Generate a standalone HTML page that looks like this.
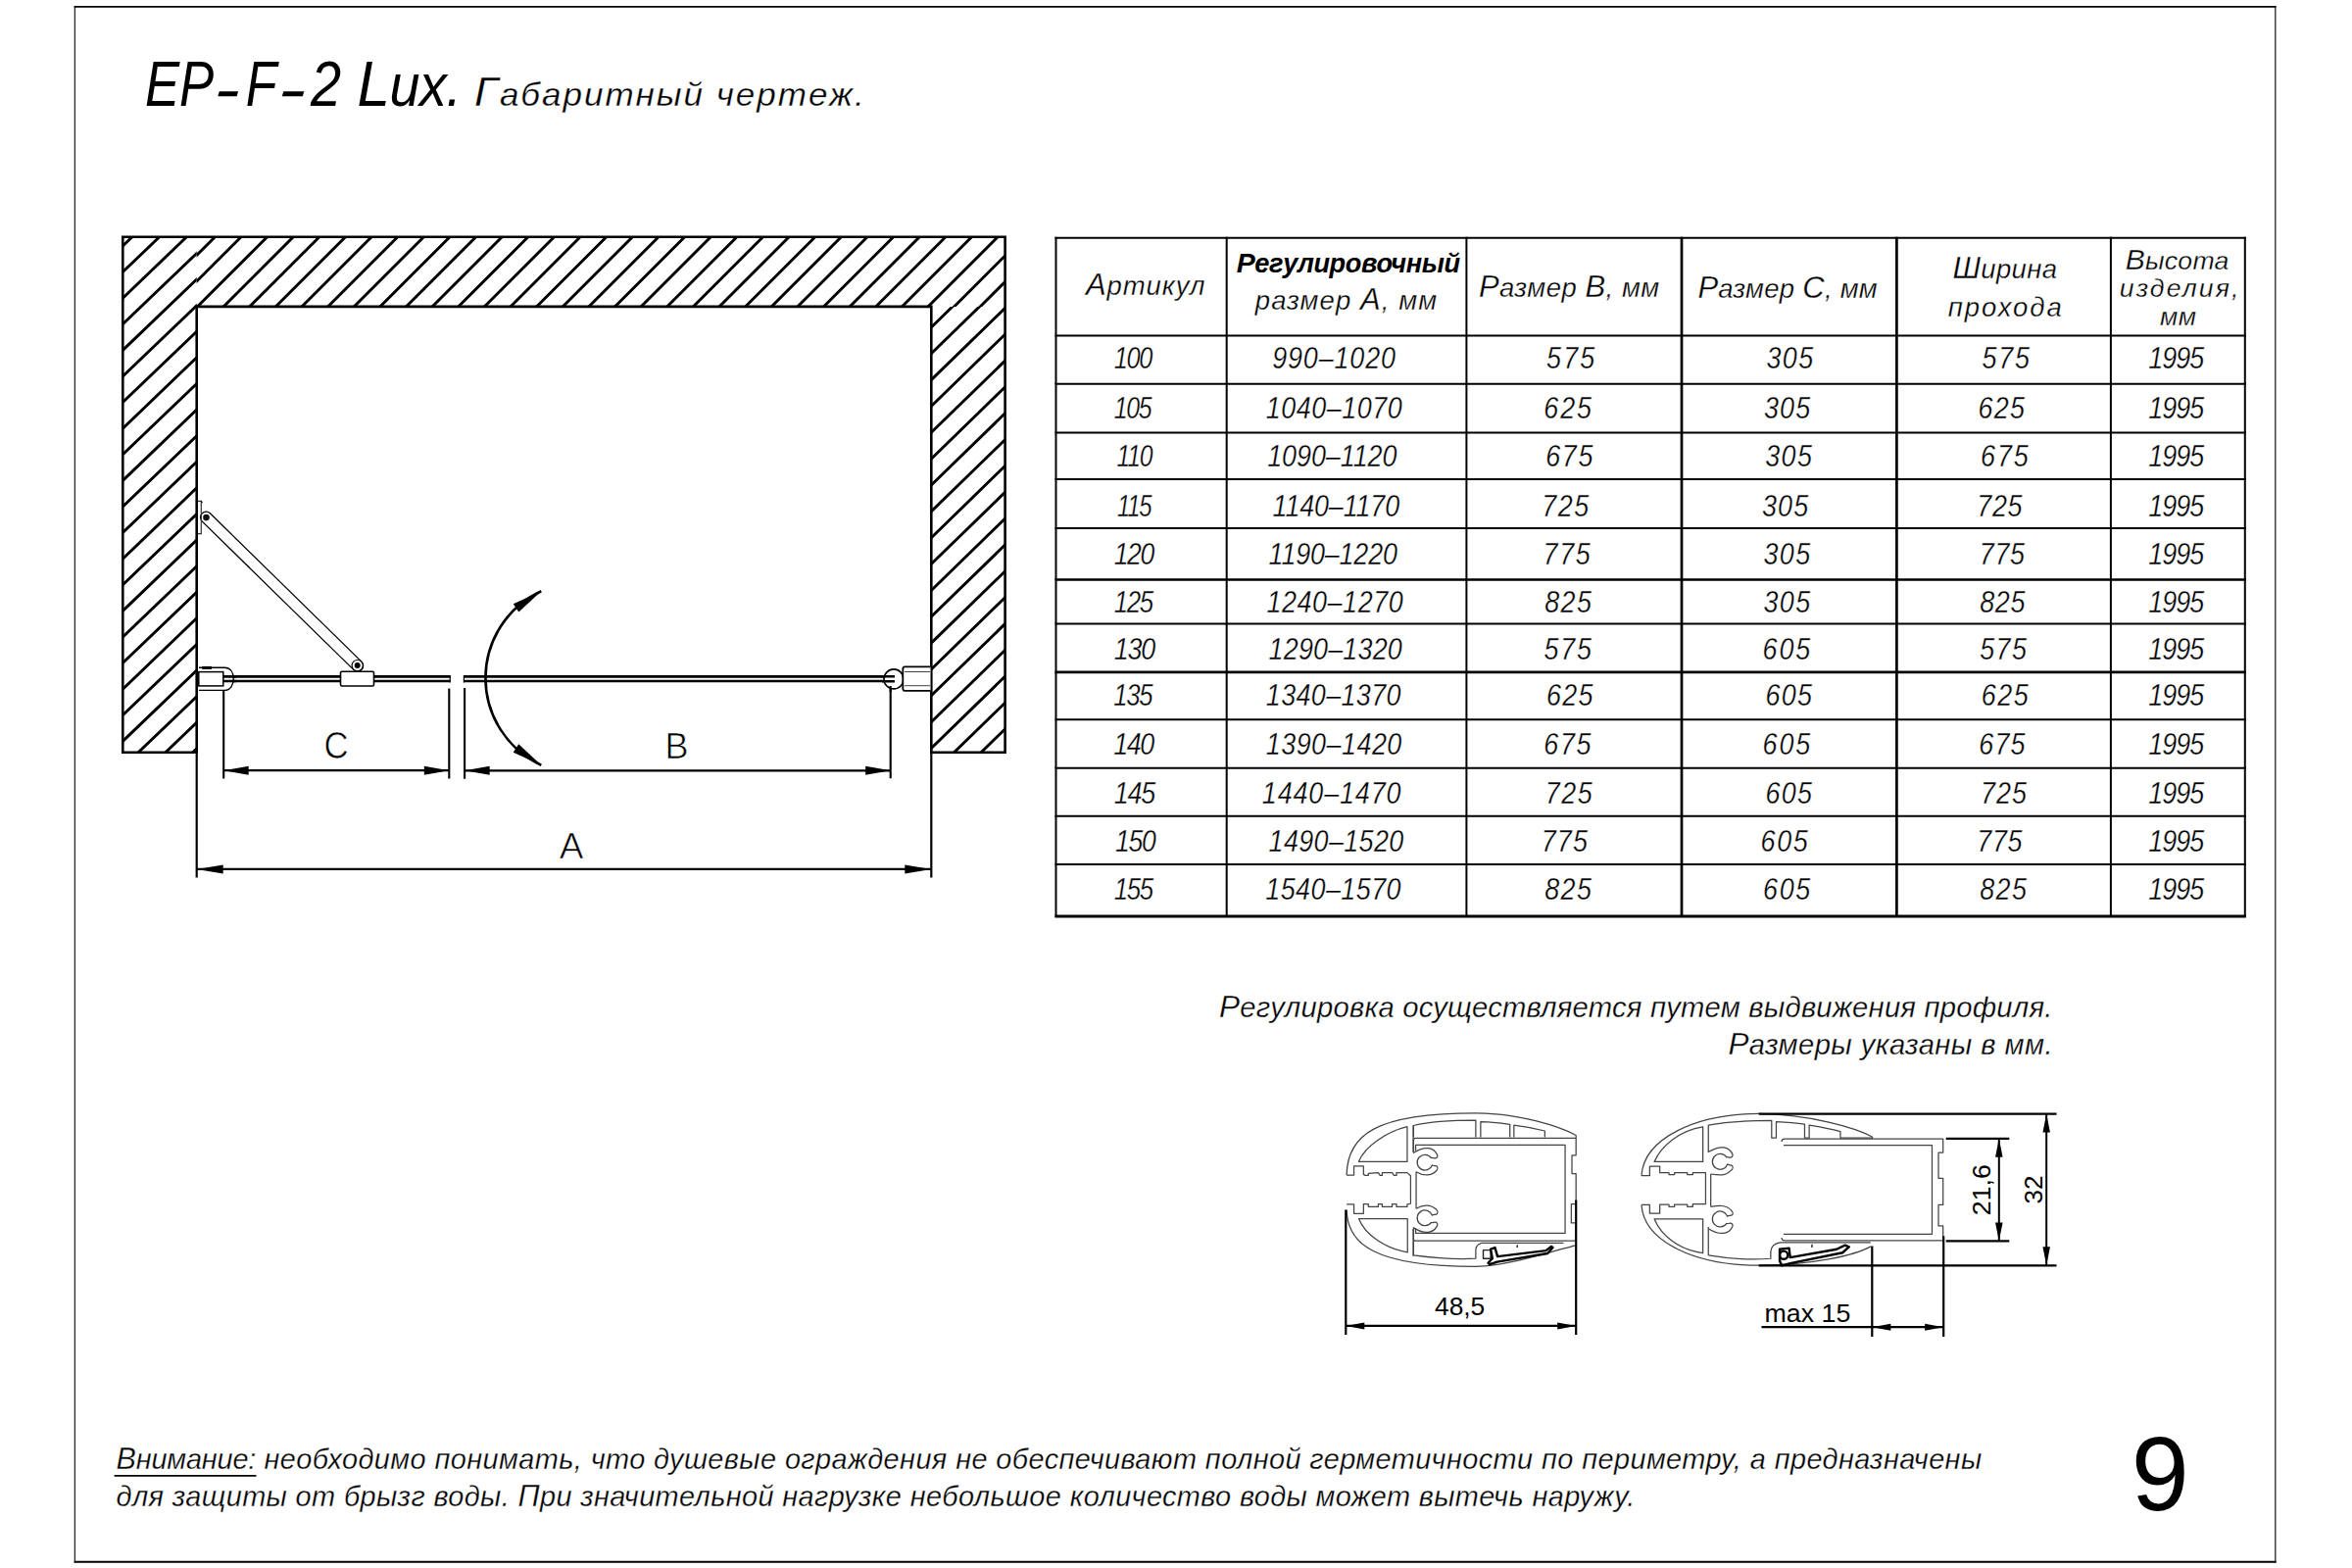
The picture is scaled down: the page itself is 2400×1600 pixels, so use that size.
<!DOCTYPE html>
<html><head><meta charset="utf-8"><style>
html,body{margin:0;padding:0;background:#fff;}
svg{display:block;}
text{font-family:"Liberation Sans",sans-serif;fill:#000;}
</style></head><body>
<svg width="2400" height="1600" viewBox="0 0 2400 1600">
<rect width="2400" height="1600" fill="#fff"/>
<path d="M76.4 6V1594.8M2321.8 6V1594.8" stroke="#333" stroke-width="1.4"/>
<path d="M75.7 6.9H2322.5M75.7 1593.8H2322.5" stroke="#000" stroke-width="1.9"/>
<clipPath id="ct"><path d="M200.7 241.8H1025.6V312.9H200.7Z"/></clipPath><clipPath id="cl"><path d="M125.3 241.8H200.7V767.7H125.3Z"/></clipPath><clipPath id="cr"><path d="M950.3 312.9H1025.6V767.7H950.3Z"/></clipPath>
<path d="M-472.01 800L127.99 200 M-445.38 800L154.62 200 M-418.76 800L181.24 200 M-392.13 800L207.87 200 M-365.51 800L234.49 200 M-338.88 800L261.12 200 M-312.25 800L287.75 200 M-285.63 800L314.37 200 M-259.00 800L341.00 200 M-232.38 800L367.62 200 M-205.75 800L394.25 200 M-179.12 800L420.88 200 M-152.50 800L447.50 200 M-125.87 800L474.13 200 M-99.25 800L500.75 200 M-72.62 800L527.38 200 M-45.99 800L554.01 200 M-19.37 800L580.63 200 M7.26 800L607.26 200 M33.88 800L633.88 200 M60.51 800L660.51 200 M87.14 800L687.14 200 M113.76 800L713.76 200 M140.39 800L740.39 200 M167.01 800L767.01 200 M193.64 800L793.64 200 M220.27 800L820.27 200 M246.89 800L846.89 200 M273.52 800L873.52 200 M300.14 800L900.14 200 M326.77 800L926.77 200 M353.40 800L953.40 200 M380.02 800L980.02 200 M406.65 800L1006.65 200 M433.27 800L1033.27 200 M459.90 800L1059.90 200 M486.53 800L1086.53 200 M513.15 800L1113.15 200 M539.78 800L1139.78 200 M566.40 800L1166.40 200" stroke="#000" stroke-width="2.9" clip-path="url(#ct)" fill="none"/>
<path d="M50.70 242.60L350.70 -44.80 M50.70 269.20L350.70 -18.20 M50.70 295.80L350.70 8.40 M50.70 322.40L350.70 35.00 M50.70 349.00L350.70 61.60 M50.70 375.60L350.70 88.20 M50.70 402.20L350.70 114.80 M50.70 428.80L350.70 141.40 M50.70 455.40L350.70 168.00 M50.70 482.00L350.70 194.60 M50.70 508.60L350.70 221.20 M50.70 535.20L350.70 247.80 M50.70 561.80L350.70 274.40 M50.70 588.40L350.70 301.00 M50.70 615.00L350.70 327.60 M50.70 641.60L350.70 354.20 M50.70 668.20L350.70 380.80 M50.70 694.80L350.70 407.40 M50.70 721.40L350.70 434.00 M50.70 748.00L350.70 460.60 M50.70 774.60L350.70 487.20 M50.70 801.20L350.70 513.80 M50.70 827.80L350.70 540.40 M50.70 854.40L350.70 567.00 M50.70 881.00L350.70 593.60 M50.70 907.60L350.70 620.20 M50.70 934.20L350.70 646.80 M50.70 960.80L350.70 673.40 M50.70 987.40L350.70 700.00 M50.70 1014.00L350.70 726.60" stroke="#000" stroke-width="2.9" clip-path="url(#cl)" fill="none"/>
<path d="M800.30 318.75L1100.30 26.85 M800.30 345.60L1100.30 53.70 M800.30 372.45L1100.30 80.55 M800.30 399.30L1100.30 107.40 M800.30 426.15L1100.30 134.25 M800.30 453.00L1100.30 161.10 M800.30 479.85L1100.30 187.95 M800.30 506.70L1100.30 214.80 M800.30 533.55L1100.30 241.65 M800.30 560.40L1100.30 268.50 M800.30 587.25L1100.30 295.35 M800.30 614.10L1100.30 322.20 M800.30 640.95L1100.30 349.05 M800.30 667.80L1100.30 375.90 M800.30 694.65L1100.30 402.75 M800.30 721.50L1100.30 429.60 M800.30 748.35L1100.30 456.45 M800.30 775.20L1100.30 483.30 M800.30 802.05L1100.30 510.15 M800.30 828.90L1100.30 537.00 M800.30 855.75L1100.30 563.85 M800.30 882.60L1100.30 590.70 M800.30 909.45L1100.30 617.55 M800.30 936.30L1100.30 644.40 M800.30 963.15L1100.30 671.25 M800.30 990.00L1100.30 698.10 M800.30 1016.85L1100.30 724.95" stroke="#000" stroke-width="2.9" clip-path="url(#cr)" fill="none"/>
<path d="M125.3 767.7V241.8H1025.6V767.7H950.3V312.9H200.7V767.7Z" fill="none" stroke="#000" stroke-width="2.6"/>
<path d="M200.7 767.7V895.5M950.3 767.7V895.5" stroke="#000" stroke-width="2.2"/>
<path d="M228.2 702.4V794.5M458.3 702.4V794.5M474.1 702.1V794.7M908.7 700.2V794.2" stroke="#000" stroke-width="2.1"/>
<path d="M228.2 786.2H458.3" stroke="#000" stroke-width="2.2"/><path d="M228.20 786.20L253.70 781.70L253.70 790.70Z" fill="#000"/><path d="M458.30 786.20L432.80 790.70L432.80 781.70Z" fill="#000"/>
<path d="M474.1 786.3H908.7" stroke="#000" stroke-width="2.2"/><path d="M474.10 786.30L499.60 781.80L499.60 790.80Z" fill="#000"/><path d="M908.70 786.30L883.20 790.80L883.20 781.80Z" fill="#000"/>
<path d="M200.7 886.9H950.3" stroke="#000" stroke-width="2.2"/><path d="M200.70 886.90L227.70 882.40L227.70 891.40Z" fill="#000"/><path d="M950.30 886.90L923.30 891.40L923.30 882.40Z" fill="#000"/>
<path d="M227 690.4H459.6M227 695.0H459.6M473 690.4H914M473 695.0H914" stroke="#000" stroke-width="2.7"/>
<path d="M459.2 689.2V696.4M473.4 689.2V696.4" stroke="#000" stroke-width="1.2"/>
<path d="M552.3 603.2A97.7 97.7 0 0 0 552.3 780.7" fill="none" stroke="#000" stroke-width="2.6"/>
<path d="M552.30 603.20L529.33 624.60L523.76 616.30Z" fill="#000"/>
<path d="M552.30 780.70L523.73 767.67L529.27 759.35Z" fill="#000"/>
<g transform="translate(210.5 528.1) rotate(44.399)"><rect x="-6" y="-5.8" width="227.82" height="11.6" rx="5.8" fill="#fff" stroke="#000" stroke-width="1.3"/></g>
<path d="M202 511.4H205.3V544.6H202" fill="none" stroke="#333" stroke-width="1.2"/><path d="M205.3 511.4L206.5 512.8" stroke="#000" stroke-width="1.2"/>
<circle cx="210.5" cy="528.1" r="3.3" fill="#111"/>
<rect x="347.5" y="685.2" width="34" height="14.8" rx="1.5" fill="#fff" stroke="#000" stroke-width="1.6"/>
<circle cx="364.7" cy="679.1" r="5.6" fill="#fff" stroke="#000" stroke-width="1.2"/><circle cx="364.7" cy="679.1" r="3" fill="#000"/>
<path d="M203 681.2H229C235 681.2 238.2 686 238.2 692.6C238.2 699.4 235 704.4 229 704.4H203" fill="#fff" stroke="#000" stroke-width="1.4"/>
<rect x="202.8" y="685.6" width="25" height="14.3" fill="#fff" stroke="#000" stroke-width="1.5"/>
<path d="M206 681.4H216" stroke="#000" stroke-width="3"/>
<path d="M227.8 690.4H241M227.8 695.0H241" stroke="#000" stroke-width="2.7"/>
<circle cx="912" cy="692.9" r="10" fill="#fff" stroke="#000" stroke-width="1.6"/>
<path d="M949.5 680.3H923Q921.3 680.3 921.3 683V702Q921.3 704.8 923 704.8H949.5" fill="#fff" stroke="#000" stroke-width="1.8"/>
<path d="M923 685.5H949M923 699.7H949" stroke="#444" stroke-width="1"/>
<path d="M900 690.3H913M900 695.3H913" stroke="#000" stroke-width="2.4"/>
<path d="M908.7 700V706" stroke="#000" stroke-width="2.1"/>
<path d="M1077.5 241.8V936.0" stroke="#000" stroke-width="2.0"/>
<path d="M1251.7 241.8V936.0" stroke="#000" stroke-width="2.0"/>
<path d="M1496.4 241.8V936.0" stroke="#000" stroke-width="2.0"/>
<path d="M1716.0 241.8V936.0" stroke="#000" stroke-width="2.7"/>
<path d="M1935.4 241.8V936.0" stroke="#000" stroke-width="2.7"/>
<path d="M2153.9 241.8V936.0" stroke="#000" stroke-width="2.0"/>
<path d="M2290.8 241.8V936.0" stroke="#000" stroke-width="2.0"/>
<path d="M1076.5 242.8H2291.8" stroke="#000" stroke-width="2.0"/>
<path d="M1076.5 342.6H2291.8" stroke="#000" stroke-width="2.0"/>
<path d="M1076.5 391.8H2291.8" stroke="#000" stroke-width="2.0"/>
<path d="M1076.5 441.4H2291.8" stroke="#000" stroke-width="2.0"/>
<path d="M1076.5 489.0H2291.8" stroke="#000" stroke-width="2.0"/>
<path d="M1076.5 538.9H2291.8" stroke="#000" stroke-width="2.0"/>
<path d="M1076.5 591.5H2291.8" stroke="#000" stroke-width="2.6"/>
<path d="M1076.5 636.6H2291.8" stroke="#000" stroke-width="2.0"/>
<path d="M1076.5 685.9H2291.8" stroke="#000" stroke-width="2.6"/>
<path d="M1076.5 734.3H2291.8" stroke="#000" stroke-width="2.0"/>
<path d="M1076.5 783.8H2291.8" stroke="#000" stroke-width="2.0"/>
<path d="M1076.5 832.7H2291.8" stroke="#000" stroke-width="2.0"/>
<path d="M1076.5 881.9H2291.8" stroke="#000" stroke-width="2.0"/>
<path d="M1076.5 935.0H2291.8" stroke="#000" stroke-width="2.8"/>
<g transform="translate(1360 1120) scale(0.165782)" fill="none" stroke="#444" stroke-width="1.25" stroke-linejoin="round" vector-effect="non-scaling-stroke"><path d="M85 477C90 230 260 96 880 96C1150 96 1400 180 1497 232V355H1472V468H1497V655H1468V772H1497V885" vector-effect="non-scaling-stroke"/><path d="M85 690C90 905 260 1040 880 1040C1050 1040 1300 960 1492 910" vector-effect="non-scaling-stroke"/><path d="M85 477H130V422H189V473L200 479H219V467L280 462L291 479H304V462H365L376 479H392V462H458L479 481V653L458 657V672H392V655H365V672H304V655H280V672H219V655H189V714H130V657H85" vector-effect="non-scaling-stroke"/><path d="M160 392C200 300 330 210 458 179V395H160Z" vector-effect="non-scaling-stroke"/><path d="M160 745H460V952C330 930 200 850 160 745Z" vector-effect="non-scaling-stroke"/><path d="M495 170V340" vector-effect="non-scaling-stroke"/><path d="M513 457V683" vector-effect="non-scaling-stroke"/><path d="M495 808V975" vector-effect="non-scaling-stroke"/><path d="M497 245V172C600 148 750 140 880 140V245M910 245V148C980 150 1040 158 1090 165V245M1115 245V170C1180 178 1250 192 1305 205V245" vector-effect="non-scaling-stroke"/><path d="M510 325V292H1430V835H510V805" vector-effect="non-scaling-stroke"/><path d="M497 330V262Q497 250 510 250H1497" vector-effect="non-scaling-stroke"/><path d="M497 800V870Q497 882 510 882H1497" vector-effect="non-scaling-stroke"/><path d="M497 882V970C650 990 800 995 880 990V940Q880 905 915 895H1420" vector-effect="non-scaling-stroke"/><path d="M926 939H972V991H926Z" vector-effect="non-scaling-stroke" stroke="#222" stroke-width="1.4"/><path d="M972 933L998 923L1014 978L1312 942L1345 916L1354 923L1322 959L1011 1011L965 1027L956 1018L982 991Z" vector-effect="non-scaling-stroke" stroke="#000" stroke-width="2.4"/><path d="M1135 906V923" vector-effect="non-scaling-stroke" stroke="#000" stroke-width="1.2"/></g><path transform="translate(1453.8 1186)" d="M-11.77 -9.62C-5.97 -13.26 -0.99 -14.92 3.98 -14.26C8.12 -13.59 11.44 -10.44 12.77 -7.63C13.59 -5.64 12.27 -4.14 10.44 -4.14C8.95 -4.14 7.79 -4.97 6.63 -4.48A7.9 7.9 0 1 0 7.63 2.98C8.95 3.65 11.44 3.65 12.6 4.31C13.59 5.64 13.1 7.79 11.6 8.95C8.95 11.6 5.64 12.77 2.32 12.93C-1.82 13.1 -5.14 11.94 -8.79 9.78" fill="none" stroke="#444" stroke-width="1.25" vector-effect="non-scaling-stroke"/><path transform="translate(1453.8 1243) scale(1 -1)" d="M-11.77 -9.62C-5.97 -13.26 -0.99 -14.92 3.98 -14.26C8.12 -13.59 11.44 -10.44 12.77 -7.63C13.59 -5.64 12.27 -4.14 10.44 -4.14C8.95 -4.14 7.79 -4.97 6.63 -4.48A7.9 7.9 0 1 0 7.63 2.98C8.95 3.65 11.44 3.65 12.6 4.31C13.59 5.64 13.1 7.79 11.6 8.95C8.95 11.6 5.64 12.77 2.32 12.93C-1.82 13.1 -5.14 11.94 -8.79 9.78" fill="none" stroke="#444" stroke-width="1.25" vector-effect="non-scaling-stroke"/>
<g transform="translate(1660 1120) scale(0.187073)" fill="none" stroke="#444" stroke-width="1.25" stroke-linejoin="round" vector-effect="non-scaling-stroke"><path d="M80 425C95 220 380 88 720 88C1000 92 1250 165 1340 215V222" vector-effect="non-scaling-stroke"/><path d="M80 585C95 790 380 915 720 915C1000 915 1250 860 1330 812" vector-effect="non-scaling-stroke"/><path d="M80 425H125V375H180V410H230V420H260V410H330V420H360V410H430V580H360V595H330V583H260V595H230V583H180V595V632H125V585H80" vector-effect="non-scaling-stroke"/><path d="M150 350C190 260 290 180 415 160V350H150Z" vector-effect="non-scaling-stroke"/><path d="M150 662H415V848C290 830 190 760 150 662Z" vector-effect="non-scaling-stroke"/><path d="M445 150V299M458 417V595M445 706V860" vector-effect="non-scaling-stroke"/><path d="M445 150C560 128 680 125 790 125V220H815V132C870 135 930 140 970 145V220H995V150C1060 160 1120 172 1165 185V220H1340" vector-effect="non-scaling-stroke"/><path d="M845 240Q845 225 860 225H1725V300H1700V440H1725V585H1700V700H1725V780H860Q845 780 845 765" vector-effect="non-scaling-stroke"/><path d="M855 260H1665V745H855" vector-effect="non-scaling-stroke"/><path d="M445 860C560 880 690 885 785 878V840Q790 795 840 790H1330" vector-effect="non-scaling-stroke"/><path d="M834 827L885 821L891 872L1145 827L1190 805L1212 815L1177 846L891 904L846 916L834 891Z" vector-effect="non-scaling-stroke" stroke="#000" stroke-width="2.4"/><path d="M878 859A22 22 0 1 1 834 859A22 22 0 1 1 878 859Z" vector-effect="non-scaling-stroke" stroke="#000" stroke-width="2.4"/><path d="M1010 800V818" vector-effect="non-scaling-stroke" stroke="#000" stroke-width="1.2"/></g><path transform="translate(1755.0 1185.2)" d="M-11.77 -9.62C-5.97 -13.26 -0.99 -14.92 3.98 -14.26C8.12 -13.59 11.44 -10.44 12.77 -7.63C13.59 -5.64 12.27 -4.14 10.44 -4.14C8.95 -4.14 7.79 -4.97 6.63 -4.48A7.9 7.9 0 1 0 7.63 2.98C8.95 3.65 11.44 3.65 12.6 4.31C13.59 5.64 13.1 7.79 11.6 8.95C8.95 11.6 5.64 13.4 2.32 13.6C-2 13.8 -6 13.3 -9.4 12.8" fill="none" stroke="#444" stroke-width="1.25" vector-effect="non-scaling-stroke"/><path transform="translate(1755.0 1244.1) scale(1 -1)" d="M-11.77 -9.62C-5.97 -13.26 -0.99 -14.92 3.98 -14.26C8.12 -13.59 11.44 -10.44 12.77 -7.63C13.59 -5.64 12.27 -4.14 10.44 -4.14C8.95 -4.14 7.79 -4.97 6.63 -4.48A7.9 7.9 0 1 0 7.63 2.98C8.95 3.65 11.44 3.65 12.6 4.31C13.59 5.64 13.1 7.79 11.6 8.95C8.95 11.6 5.64 13.4 2.32 13.6C-2 13.8 -6 13.3 -9.4 12.8" fill="none" stroke="#444" stroke-width="1.25" vector-effect="non-scaling-stroke"/>
<path d="M1373.3 1234.4V1362M1608.2 1224.4V1362" stroke="#000" stroke-width="2.2"/>
<path d="M1373.3 1352.9H1608.2" stroke="#000" stroke-width="2.2"/><path d="M1373.30 1352.90L1392.30 1349.40L1392.30 1356.40Z" fill="#000"/><path d="M1608.20 1352.90L1589.20 1356.40L1589.20 1349.40Z" fill="#000"/>
<path d="M1794.7 1136.6H2098.5M1794.7 1291.3H2098.5" stroke="#000" stroke-width="2.2"/>
<path d="M1985.7 1161.8H2050.3M1985.7 1266.4H2050.3" stroke="#000" stroke-width="2.2"/>
<path d="M2088.2 1136.6V1291.3" stroke="#000" stroke-width="2.0"/><path d="M2088.20 1136.60L2091.95 1155.60L2084.45 1155.60Z" fill="#000"/><path d="M2088.20 1291.30L2084.45 1272.30L2091.95 1272.30Z" fill="#000"/>
<path d="M2039.8 1161.8V1266.4" stroke="#000" stroke-width="2.0"/><path d="M2039.80 1161.80L2043.55 1180.80L2036.05 1180.80Z" fill="#000"/><path d="M2039.80 1266.40L2036.05 1247.40L2043.55 1247.40Z" fill="#000"/>
<path d="M1910.3 1271.5V1364.1M1983.2 1261.2V1364.1" stroke="#000" stroke-width="2.2"/>
<path d="M1797.5 1354.2H1983" stroke="#000" stroke-width="2.2"/>
<path d="M1910.30 1354.20L1929.30 1350.70L1929.30 1357.70Z" fill="#000"/><path d="M1983.20 1354.20L1964.20 1357.70L1964.20 1350.70Z" fill="#000"/>
<path d="M116.6 1505.9H261.5" stroke="#000" stroke-width="1.9"/>
<path d="M222.3 98.3L223.8 93.2H243.1L241.6 98.3Z" fill="#000"/><path d="M287.8 98.3L289.3 93.2H310.3L308.8 98.3Z" fill="#000"/>
<text transform="translate(147.88 108.00) scale(0.8042 1)" font-size="65.50" font-style="italic">EP</text>
<text transform="translate(250.79 108.00) scale(0.7910 1)" font-size="65.50" font-style="italic">F</text>
<text transform="translate(317.07 108.00) scale(0.8550 1)" font-size="65.50" font-style="italic">2</text>
<text transform="translate(364.56 108.00) scale(0.9181 1)" font-size="65.50" font-style="italic" letter-spacing="-0.500"><tspan font-size="65.50">L</tspan><tspan font-size="60.70">ux.</tspan></text>
<text transform="translate(483.91 107.90) scale(1.0500 1)" font-size="42.00" font-style="italic" letter-spacing="1.892" stroke="#fff" stroke-width="0.3"><tspan font-size="42.00">Г</tspan><tspan font-size="33.36">абаритный чертеж.</tspan></text>
<text transform="translate(1107.94 300.70) scale(1.0000 1)" font-size="31.00" font-style="italic" letter-spacing="0.905" stroke="#fff" stroke-width="0.3"><tspan font-size="31.00">А</tspan><tspan font-size="27.50">ртикул</tspan></text>
<text transform="translate(1261.65 278.00) scale(1.0000 1)" font-size="28.50" font-style="italic" font-weight="bold" letter-spacing="-0.370"><tspan font-size="28.50">Р</tspan><tspan font-size="27.17">егулировочный</tspan></text>
<text transform="translate(1280.86 316.10) scale(1.0000 1)" font-size="31.00" font-style="italic" letter-spacing="1.093" stroke="#fff" stroke-width="0.3"><tspan font-size="27.50">размер </tspan><tspan font-size="31.00">А</tspan><tspan font-size="27.50">, мм</tspan></text>
<text transform="translate(1508.92 302.60) scale(1.0000 1)" font-size="31.00" font-style="italic" letter-spacing="0.508" stroke="#fff" stroke-width="0.3"><tspan font-size="31.00">Р</tspan><tspan font-size="27.50">азмер </tspan><tspan font-size="31.00">В</tspan><tspan font-size="27.50">, мм</tspan></text>
<text transform="translate(1732.42 303.90) scale(1.0000 1)" font-size="31.00" font-style="italic" letter-spacing="0.271" stroke="#fff" stroke-width="0.3"><tspan font-size="31.00">Р</tspan><tspan font-size="27.50">азмер </tspan><tspan font-size="31.00">С</tspan><tspan font-size="27.50">, мм</tspan></text>
<text transform="translate(1992.42 284.40) scale(1.0000 1)" font-size="31.00" font-style="italic" letter-spacing="0.347" stroke="#fff" stroke-width="0.3"><tspan font-size="31.00">Ш</tspan><tspan font-size="27.50">ирина</tspan></text>
<text transform="translate(1987.77 322.60) scale(1.0000 1)" font-size="27.50" font-style="italic" letter-spacing="1.929" stroke="#fff" stroke-width="0.3">прохода</text>
<text transform="translate(2168.63 275.40) scale(1.0000 1)" font-size="30.00" font-style="italic" letter-spacing="0.274" stroke="#fff" stroke-width="0.3"><tspan font-size="30.00">В</tspan><tspan font-size="26.61">ысота</tspan></text>
<text transform="translate(2162.77 302.90) scale(1.0000 1)" font-size="26.61" font-style="italic" letter-spacing="2.106" stroke="#fff" stroke-width="0.3">изделия,</text>
<text transform="translate(2204.08 332.00) scale(1.0000 1)" font-size="26.61" font-style="italic" letter-spacing="0.494" stroke="#fff" stroke-width="0.3">мм</text>
<text transform="translate(1136.70 376.30) scale(0.8106 1)" font-size="31.30" font-style="italic" letter-spacing="-1.600" stroke="#fff" stroke-width="0.35">100</text>
<text transform="translate(1298.16 376.30) scale(0.8600 1)" font-size="31.30" font-style="italic" letter-spacing="1.014" stroke="#fff" stroke-width="0.35">990–1020</text>
<text transform="translate(1578.08 376.30) scale(0.8600 1)" font-size="31.30" font-style="italic" letter-spacing="2.522" stroke="#fff" stroke-width="0.35">575</text>
<text transform="translate(1802.38 376.30) scale(0.8600 1)" font-size="31.30" font-style="italic" letter-spacing="1.766" stroke="#fff" stroke-width="0.35">305</text>
<text transform="translate(2022.58 376.30) scale(0.8600 1)" font-size="31.30" font-style="italic" letter-spacing="2.057" stroke="#fff" stroke-width="0.35">575</text>
<text transform="translate(2192.18 376.30) scale(0.8600 1)" font-size="31.30" font-style="italic" letter-spacing="-1.098" stroke="#fff" stroke-width="0.35">1995</text>
<text transform="translate(1136.71 426.70) scale(0.7941 1)" font-size="31.30" font-style="italic" letter-spacing="-1.600" stroke="#fff" stroke-width="0.35">105</text>
<text transform="translate(1291.78 426.70) scale(0.8600 1)" font-size="31.30" font-style="italic" letter-spacing="0.627" stroke="#fff" stroke-width="0.35">1040–1070</text>
<text transform="translate(1575.34 426.70) scale(0.8600 1)" font-size="31.30" font-style="italic" letter-spacing="2.197" stroke="#fff" stroke-width="0.35">625</text>
<text transform="translate(1799.88 426.70) scale(0.8600 1)" font-size="31.30" font-style="italic" letter-spacing="1.476" stroke="#fff" stroke-width="0.35">305</text>
<text transform="translate(2018.54 426.70) scale(0.8600 1)" font-size="31.30" font-style="italic" letter-spacing="1.500" stroke="#fff" stroke-width="0.35">625</text>
<text transform="translate(2192.18 426.70) scale(0.8600 1)" font-size="31.30" font-style="italic" letter-spacing="-1.098" stroke="#fff" stroke-width="0.35">1995</text>
<text transform="translate(1139.51 476.40) scale(0.7908 1)" font-size="31.30" font-style="italic" letter-spacing="-1.600" stroke="#fff" stroke-width="0.35">110</text>
<text transform="translate(1293.18 476.40) scale(0.8600 1)" font-size="31.30" font-style="italic" letter-spacing="-0.071" stroke="#fff" stroke-width="0.35">1090–1120</text>
<text transform="translate(1577.24 476.40) scale(0.8600 1)" font-size="31.30" font-style="italic" letter-spacing="1.907" stroke="#fff" stroke-width="0.35">675</text>
<text transform="translate(1801.18 476.40) scale(0.8600 1)" font-size="31.30" font-style="italic" letter-spacing="1.708" stroke="#fff" stroke-width="0.35">305</text>
<text transform="translate(2021.04 476.40) scale(0.8600 1)" font-size="31.30" font-style="italic" letter-spacing="2.255" stroke="#fff" stroke-width="0.35">675</text>
<text transform="translate(2192.18 476.40) scale(0.8600 1)" font-size="31.30" font-style="italic" letter-spacing="-1.098" stroke="#fff" stroke-width="0.35">1995</text>
<text transform="translate(1140.03 526.80) scale(0.7628 1)" font-size="31.30" font-style="italic" letter-spacing="-1.600" stroke="#fff" stroke-width="0.35">115</text>
<text transform="translate(1298.58 526.80) scale(0.8600 1)" font-size="31.30" font-style="italic" letter-spacing="-0.173" stroke="#fff" stroke-width="0.35">1140–1170</text>
<text transform="translate(1573.28 526.80) scale(0.8600 1)" font-size="31.30" font-style="italic" letter-spacing="1.826" stroke="#fff" stroke-width="0.35">725</text>
<text transform="translate(1797.88 526.80) scale(0.8600 1)" font-size="31.30" font-style="italic" letter-spacing="1.476" stroke="#fff" stroke-width="0.35">305</text>
<text transform="translate(2017.28 526.80) scale(0.8600 1)" font-size="31.30" font-style="italic" letter-spacing="0.780" stroke="#fff" stroke-width="0.35">725</text>
<text transform="translate(2192.18 526.80) scale(0.8600 1)" font-size="31.30" font-style="italic" letter-spacing="-1.098" stroke="#fff" stroke-width="0.35">1995</text>
<text transform="translate(1136.68 575.80) scale(0.8495 1)" font-size="31.30" font-style="italic" letter-spacing="-1.600" stroke="#fff" stroke-width="0.35">120</text>
<text transform="translate(1294.58 575.80) scale(0.8600 1)" font-size="31.30" font-style="italic" letter-spacing="-0.202" stroke="#fff" stroke-width="0.35">1190–1220</text>
<text transform="translate(1574.58 575.80) scale(0.8600 1)" font-size="31.30" font-style="italic" letter-spacing="1.884" stroke="#fff" stroke-width="0.35">775</text>
<text transform="translate(1799.38 575.80) scale(0.8600 1)" font-size="31.30" font-style="italic" letter-spacing="1.766" stroke="#fff" stroke-width="0.35">305</text>
<text transform="translate(2019.78 575.80) scale(0.8600 1)" font-size="31.30" font-style="italic" letter-spacing="0.780" stroke="#fff" stroke-width="0.35">775</text>
<text transform="translate(2192.18 575.80) scale(0.8600 1)" font-size="31.30" font-style="italic" letter-spacing="-1.098" stroke="#fff" stroke-width="0.35">1995</text>
<text transform="translate(1136.70 624.80) scale(0.8270 1)" font-size="31.30" font-style="italic" letter-spacing="-1.600" stroke="#fff" stroke-width="0.35">125</text>
<text transform="translate(1292.58 624.80) scale(0.8600 1)" font-size="31.30" font-style="italic" letter-spacing="0.627" stroke="#fff" stroke-width="0.35">1240–1270</text>
<text transform="translate(1576.18 624.80) scale(0.8600 1)" font-size="31.30" font-style="italic" letter-spacing="1.708" stroke="#fff" stroke-width="0.35">825</text>
<text transform="translate(1799.38 624.80) scale(0.8600 1)" font-size="31.30" font-style="italic" letter-spacing="1.766" stroke="#fff" stroke-width="0.35">305</text>
<text transform="translate(2020.18 624.80) scale(0.8600 1)" font-size="31.30" font-style="italic" letter-spacing="0.836" stroke="#fff" stroke-width="0.35">825</text>
<text transform="translate(2192.18 624.80) scale(0.8600 1)" font-size="31.30" font-style="italic" letter-spacing="-1.098" stroke="#fff" stroke-width="0.35">1995</text>
<text transform="translate(1136.68 673.40) scale(0.8600 1)" font-size="31.30" font-style="italic" letter-spacing="-1.431" stroke="#fff" stroke-width="0.35">130</text>
<text transform="translate(1294.58 673.40) scale(0.8600 1)" font-size="31.30" font-style="italic" letter-spacing="0.220" stroke="#fff" stroke-width="0.35">1290–1320</text>
<text transform="translate(1575.38 673.40) scale(0.8600 1)" font-size="31.30" font-style="italic" letter-spacing="2.173" stroke="#fff" stroke-width="0.35">575</text>
<text transform="translate(1798.54 673.40) scale(0.8600 1)" font-size="31.30" font-style="italic" letter-spacing="2.255" stroke="#fff" stroke-width="0.35">605</text>
<text transform="translate(2020.18 673.40) scale(0.8600 1)" font-size="31.30" font-style="italic" letter-spacing="1.708" stroke="#fff" stroke-width="0.35">575</text>
<text transform="translate(2192.18 673.40) scale(0.8600 1)" font-size="31.30" font-style="italic" letter-spacing="-1.098" stroke="#fff" stroke-width="0.35">1995</text>
<text transform="translate(1136.20 719.70) scale(0.8208 1)" font-size="31.30" font-style="italic" letter-spacing="-1.600" stroke="#fff" stroke-width="0.35">135</text>
<text transform="translate(1291.78 719.70) scale(0.8600 1)" font-size="31.30" font-style="italic" letter-spacing="0.438" stroke="#fff" stroke-width="0.35">1340–1370</text>
<text transform="translate(1578.04 719.70) scale(0.8600 1)" font-size="31.30" font-style="italic" letter-spacing="1.442" stroke="#fff" stroke-width="0.35">625</text>
<text transform="translate(1801.54 719.70) scale(0.8600 1)" font-size="31.30" font-style="italic" letter-spacing="1.500" stroke="#fff" stroke-width="0.35">605</text>
<text transform="translate(2021.74 719.70) scale(0.8600 1)" font-size="31.30" font-style="italic" letter-spacing="1.848" stroke="#fff" stroke-width="0.35">625</text>
<text transform="translate(2192.18 719.70) scale(0.8600 1)" font-size="31.30" font-style="italic" letter-spacing="-1.098" stroke="#fff" stroke-width="0.35">1995</text>
<text transform="translate(1136.18 769.70) scale(0.8598 1)" font-size="31.30" font-style="italic" letter-spacing="-1.600" stroke="#fff" stroke-width="0.35">140</text>
<text transform="translate(1291.78 769.70) scale(0.8600 1)" font-size="31.30" font-style="italic" letter-spacing="0.555" stroke="#fff" stroke-width="0.35">1390–1420</text>
<text transform="translate(1575.34 769.70) scale(0.8600 1)" font-size="31.30" font-style="italic" letter-spacing="1.907" stroke="#fff" stroke-width="0.35">675</text>
<text transform="translate(1798.54 769.70) scale(0.8600 1)" font-size="31.30" font-style="italic" letter-spacing="2.255" stroke="#fff" stroke-width="0.35">605</text>
<text transform="translate(2019.34 769.70) scale(0.8600 1)" font-size="31.30" font-style="italic" letter-spacing="1.325" stroke="#fff" stroke-width="0.35">675</text>
<text transform="translate(2192.18 769.70) scale(0.8600 1)" font-size="31.30" font-style="italic" letter-spacing="-1.098" stroke="#fff" stroke-width="0.35">1995</text>
<text transform="translate(1136.68 819.50) scale(0.8600 1)" font-size="31.30" font-style="italic" letter-spacing="-1.431" stroke="#fff" stroke-width="0.35">145</text>
<text transform="translate(1287.78 819.50) scale(0.8600 1)" font-size="31.30" font-style="italic" letter-spacing="1.020" stroke="#fff" stroke-width="0.35">1440–1470</text>
<text transform="translate(1576.78 819.50) scale(0.8600 1)" font-size="31.30" font-style="italic" letter-spacing="1.710" stroke="#fff" stroke-width="0.35">725</text>
<text transform="translate(1801.54 819.50) scale(0.8600 1)" font-size="31.30" font-style="italic" letter-spacing="1.500" stroke="#fff" stroke-width="0.35">605</text>
<text transform="translate(2021.08 819.50) scale(0.8600 1)" font-size="31.30" font-style="italic" letter-spacing="1.187" stroke="#fff" stroke-width="0.35">725</text>
<text transform="translate(2192.18 819.50) scale(0.8600 1)" font-size="31.30" font-style="italic" letter-spacing="-1.098" stroke="#fff" stroke-width="0.35">1995</text>
<text transform="translate(1138.08 869.30) scale(0.8495 1)" font-size="31.30" font-style="italic" letter-spacing="-1.600" stroke="#fff" stroke-width="0.35">150</text>
<text transform="translate(1294.58 869.30) scale(0.8600 1)" font-size="31.30" font-style="italic" letter-spacing="0.424" stroke="#fff" stroke-width="0.35">1490–1520</text>
<text transform="translate(1572.68 869.30) scale(0.8600 1)" font-size="31.30" font-style="italic" letter-spacing="1.361" stroke="#fff" stroke-width="0.35">775</text>
<text transform="translate(1796.54 869.30) scale(0.8600 1)" font-size="31.30" font-style="italic" letter-spacing="1.965" stroke="#fff" stroke-width="0.35">605</text>
<text transform="translate(2017.28 869.30) scale(0.8600 1)" font-size="31.30" font-style="italic" letter-spacing="0.780" stroke="#fff" stroke-width="0.35">775</text>
<text transform="translate(2192.18 869.30) scale(0.8600 1)" font-size="31.30" font-style="italic" letter-spacing="-1.098" stroke="#fff" stroke-width="0.35">1995</text>
<text transform="translate(1136.70 917.50) scale(0.8270 1)" font-size="31.30" font-style="italic" letter-spacing="-1.600" stroke="#fff" stroke-width="0.35">155</text>
<text transform="translate(1291.28 917.50) scale(0.8600 1)" font-size="31.30" font-style="italic" letter-spacing="0.511" stroke="#fff" stroke-width="0.35">1540–1570</text>
<text transform="translate(1576.18 917.50) scale(0.8600 1)" font-size="31.30" font-style="italic" letter-spacing="1.708" stroke="#fff" stroke-width="0.35">825</text>
<text transform="translate(1799.04 917.50) scale(0.8600 1)" font-size="31.30" font-style="italic" letter-spacing="1.965" stroke="#fff" stroke-width="0.35">605</text>
<text transform="translate(2020.18 917.50) scale(0.8600 1)" font-size="31.30" font-style="italic" letter-spacing="1.708" stroke="#fff" stroke-width="0.35">825</text>
<text transform="translate(2192.18 917.50) scale(0.8600 1)" font-size="31.30" font-style="italic" letter-spacing="-1.098" stroke="#fff" stroke-width="0.35">1995</text>
<text transform="translate(1244.01 1037.60) scale(1.0000 1)" font-size="31.50" font-style="italic" letter-spacing="0.232" stroke="#fff" stroke-width="0.3"><tspan font-size="31.50">Р</tspan><tspan font-size="29.19">егулировка осуществляется путем выдвижения профиля.</tspan></text>
<text transform="translate(1763.41 1075.90) scale(1.0000 1)" font-size="31.50" font-style="italic" letter-spacing="0.431" stroke="#fff" stroke-width="0.3"><tspan font-size="31.50">Р</tspan><tspan font-size="29.19">азмеры указаны в мм.</tspan></text>
<text transform="translate(118.62 1499.10) scale(1.0000 1)" font-size="30.50" font-style="italic" letter-spacing="-0.185" stroke="#fff" stroke-width="0.3"><tspan font-size="30.50">В</tspan><tspan font-size="28.87">нимание:</tspan></text>
<text transform="translate(269.55 1499.10) scale(1.0000 1)" font-size="28.87" font-style="italic" letter-spacing="0.423" stroke="#fff" stroke-width="0.3">необходимо понимать, что душевые ограждения не обеспечивают полной герметичности по периметру, а предназначены</text>
<text transform="translate(118.60 1536.80) scale(1.0000 1)" font-size="30.50" font-style="italic" letter-spacing="0.391" stroke="#fff" stroke-width="0.3"><tspan font-size="28.87">для защиты от брызг воды. </tspan><tspan font-size="30.50">П</tspan><tspan font-size="28.87">ри значительной нагрузке небольшое количество воды может вытечь наружу.</tspan></text>
<text transform="translate(2174.83 1541.30) scale(0.9817 1)" font-size="108.00">9</text>
<text transform="translate(330.47 773.60) scale(0.9041 1)" font-size="38.50" stroke="#fff" stroke-width="0.7">C</text>
<text transform="translate(678.59 774.10) scale(0.9736 1)" font-size="37.00" stroke="#fff" stroke-width="0.7">B</text>
<text transform="translate(570.80 875.90) scale(1.0016 1)" font-size="37.00" stroke="#fff" stroke-width="0.7">A</text>
<text transform="translate(1463.99 1342.20) scale(1.0539 1)" font-size="25.00">48,5</text>
<text transform="translate(1800.53 1348.60) scale(1.0717 1)" font-size="25.00">max 15</text>
<text transform="translate(2083.90 1228.41) rotate(-90) scale(0.9828 1)" font-size="26.50">32</text>
<text transform="translate(2031.30 1240.26) rotate(-90) scale(1.0130 1)" font-size="26.50">21,6</text>
</svg>
</body></html>
